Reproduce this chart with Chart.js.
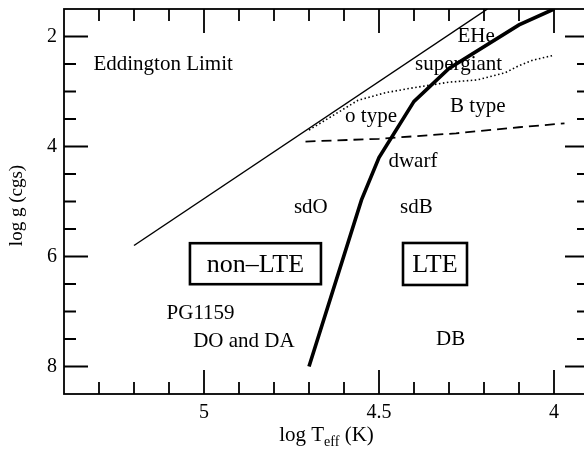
<!DOCTYPE html>
<html>
<head>
<meta charset="utf-8">
<script src="https://cdn.jsdelivr.net/npm/chart.js@4.4.1/dist/chart.umd.min.js"></script>
<style>
  html, body { margin: 0; padding: 0; background: #fff; overflow: hidden; }
  #wrap { width: 584px; height: 453px; overflow: hidden; }
</style>
</head>
<body>
<div id="wrap"><canvas id="kiel" width="590" height="453"></canvas></div>
<script>
// log Teff / log g curves
const eddT = [5.2, 4.19];
const eddG = [5.8, 1.5];

const lteT = [4.7, 4.55, 4.5, 4.4, 4.3, 4.1, 4.0];
const lteG = [8.0, 4.97, 4.2, 3.18, 2.58, 1.79, 1.5];

const giantT = [4.7, 4.63, 4.56, 4.48, 4.4, 4.3, 4.22, 4.14, 4.1, 4.06, 4.0];
const giantG = [3.7, 3.43, 3.16, 3.02, 2.93, 2.83, 2.79, 2.66, 2.53, 2.43, 2.34];

const dwarfT = [4.71, 4.5, 4.28, 4.1, 3.97];
const dwarfG = [3.91, 3.86, 3.76, 3.65, 3.58];

// axis ticks
const xMajor = [5, 4.5, 4];
const xMinor = [5.3, 5.2, 5.1, 4.9, 4.8, 4.7, 4.6, 4.4, 4.3, 4.2, 4.1];
const yMajor = [2, 4, 6, 8];
const yMinor = [2.5, 3, 3.5, 4.5, 5, 5.5, 6.5, 7, 7.5];

// region names (left edge, baseline)
const labels = [
  { text: 'Eddington Limit', t: 5.316, g: 2.61 },
  { text: 'EHe', t: 4.276, g: 2.095 },
  { text: 'supergiant', t: 4.397, g: 2.61 },
  { text: 'B type', t: 4.297, g: 3.367 },
  { text: 'o type', t: 4.597, g: 3.549 },
  { text: 'dwarf', t: 4.473, g: 4.367 },
  { text: 'sdO', t: 4.743, g: 5.215 },
  { text: 'sdB', t: 4.44, g: 5.215 },
  { text: 'PG1159', t: 5.107, g: 7.142 },
  { text: 'DO and DA', t: 5.031, g: 7.64 },
  { text: 'DB', t: 4.337, g: 7.609 }
];
// boxed labels (centre)
const boxes = [
  { text: 'non\u2013LTE', t: 4.853, g: 6.131, w: 131, h: 41 },
  { text: 'LTE', t: 4.34, g: 6.136, w: 64, h: 42 }
];

const serif = "'Liberation Serif', 'Times New Roman', serif";
Chart.defaults.font.family = serif;
Chart.defaults.color = '#000';

function pts(xs, ys) {
  return xs.map((x, i) => ({ x: x, y: ys[i] }));
}

const frame = {
  id: 'frame',
  afterDatasetsDraw(chart) {
    const ctx = chart.ctx;
    const a = chart.chartArea;
    const xs = chart.scales.x, ys = chart.scales.y;
    ctx.save();
    ctx.strokeStyle = '#000';
    ctx.lineWidth = 1.8;
    ctx.strokeRect(a.left, a.top, a.right - a.left, a.bottom - a.top);

    // inward ticks on all four sides
    ctx.beginPath();
    const tx = (v, len) => {
      const p = xs.getPixelForValue(v);
      ctx.moveTo(p, a.bottom); ctx.lineTo(p, a.bottom - len);
      ctx.moveTo(p, a.top); ctx.lineTo(p, a.top + len);
    };
    const ty = (v, len) => {
      const p = ys.getPixelForValue(v);
      ctx.moveTo(a.left, p); ctx.lineTo(a.left + len, p);
      ctx.moveTo(a.right, p); ctx.lineTo(a.right - len, p);
    };
    xMajor.forEach(v => tx(v, 24));
    xMinor.forEach(v => tx(v, 12));
    yMajor.forEach(v => ty(v, 24));
    yMinor.forEach(v => ty(v, 12));
    ctx.stroke();

    // region names
    ctx.fillStyle = '#000';
    ctx.font = '21px ' + serif;
    ctx.textAlign = 'left';
    ctx.textBaseline = 'alphabetic';
    labels.forEach(l => {
      ctx.fillText(l.text, xs.getPixelForValue(l.t), ys.getPixelForValue(l.g));
    });

    // boxed labels
    ctx.font = '26px ' + serif;
    ctx.textAlign = 'center';
    ctx.textBaseline = 'middle';
    ctx.lineWidth = 2.6;
    boxes.forEach(b => {
      const cx = xs.getPixelForValue(b.t), cy = ys.getPixelForValue(b.g);
      ctx.fillStyle = '#fff';
      ctx.fillRect(cx - b.w / 2, cy - b.h / 2, b.w, b.h);
      ctx.strokeRect(cx - b.w / 2, cy - b.h / 2, b.w, b.h);
      ctx.fillStyle = '#000';
      ctx.fillText(b.text, cx, cy + 1);
    });

    // axis titles
    ctx.textAlign = 'left';
    ctx.textBaseline = 'alphabetic';
    const big = '21px ' + serif, small = '14px ' + serif;
    ctx.font = big;
    const w1 = ctx.measureText('log T').width;
    const w3 = ctx.measureText(' (K)').width;
    ctx.font = small;
    const w2 = ctx.measureText('eff').width;
    let x0 = (a.left + a.right) / 2 - (w1 + w2 + w3) / 2;
    const base = 441;
    ctx.font = big;
    ctx.fillText('log T', x0, base);
    ctx.font = small;
    ctx.fillText('eff', x0 + w1, base + 5);
    ctx.font = big;
    ctx.fillText(' (K)', x0 + w1 + w2, base);

    ctx.translate(22, (a.top + a.bottom) / 2 + 4);
    ctx.rotate(-Math.PI / 2);
    ctx.font = '19px ' + serif;
    ctx.textAlign = 'center';
    ctx.fillText('log g (cgs)', 0, 0);
    ctx.restore();
  }
};

new Chart(document.getElementById('kiel'), {
  type: 'scatter',
  data: {
    datasets: [
      { data: pts(eddT, eddG), showLine: true, borderColor: '#000', borderWidth: 1.5, pointRadius: 0 },
      { data: pts(lteT, lteG), showLine: true, borderColor: '#000', borderWidth: 3.6, pointRadius: 0 },
      { data: pts(giantT, giantG), showLine: true, borderColor: '#000', borderWidth: 1.6, borderDash: [1.5, 2.5], pointRadius: 0 },
      { data: pts(dwarfT, dwarfG), showLine: true, borderColor: '#000', borderWidth: 1.8, borderDash: [10, 6], pointRadius: 0 }
    ]
  },
  options: {
    responsive: false,
    animation: false,
    devicePixelRatio: 1,
    layout: { padding: { left: 0, top: 9, right: 1, bottom: 0 } },
    plugins: { legend: { display: false }, tooltip: { enabled: false } },
    scales: {
      x: {
        type: 'linear', reverse: true, min: 3.9, max: 5.4,
        grid: { display: false, drawTicks: false },
        border: { display: false },
        afterBuildTicks: s => { s.ticks = xMajor.map(v => ({ value: v })); },
        afterFit: s => { s.height = 59; s.paddingLeft = 0; s.paddingRight = 0; },
        ticks: { padding: 7, font: { size: 20 }, color: '#000', callback: v => String(v) }
      },
      y: {
        type: 'linear', reverse: true, min: 1.5, max: 8.5,
        grid: { display: false, drawTicks: false },
        border: { display: false },
        afterBuildTicks: s => { s.ticks = yMajor.map(v => ({ value: v })); },
        afterFit: s => { s.width = 64; s.paddingTop = 0; s.paddingBottom = 0; },
        ticks: { padding: 7, font: { size: 20 }, color: '#000', callback: v => String(v) }
      }
    }
  },
  plugins: [frame]
});
</script>
</body>
</html>
